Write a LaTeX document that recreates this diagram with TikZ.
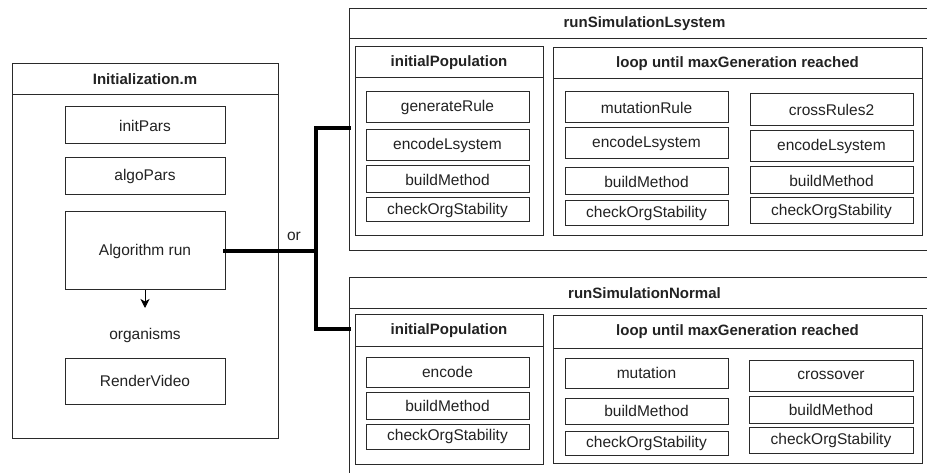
\documentclass[tikz,border=0pt]{standalone}
\usepackage{fontspec}
\setmainfont{Liberation Sans}
\usetikzlibrary{arrows.meta}
\definecolor{ink}{HTML}{222222}
\definecolor{edge}{HTML}{2A2A2A}
\tikzset{
  box/.style={draw=edge, line width=1pt, inner sep=0pt, outer sep=0pt, text=ink,
    font=\fontsize{15.5}{18}\selectfont},
  hdr/.style={box, font=\fontsize{15}{18}\selectfont\bfseries},
  frame/.style={box},
  txt/.style={inner sep=0pt, text=ink, font=\fontsize{15.5}{18}\selectfont},
  conn/.style={line width=4pt, black, line cap=rect},
  arr/.style={line width=1pt, black, -{Stealth[length=9pt,width=9pt,inset=2.5pt]}}
}
% #1 extra style, #2 x1, #3 y1, #4 x2, #5 y2, #6 name, #7 text
\newcommand{\bx}[7][]{\node[box,#1,minimum width={(#4-#2)*1pt},minimum height={(#5-#3)*1pt}] (#6) at ({(#2+#4)/2},{(#3+#5)/2}) {#7};}
\begin{document}
\begin{tikzpicture}[x=1pt,y=-1pt]
\useasboundingbox (0,0) rectangle (927,473);
\clip (0,0) rectangle (927,473);
\fill[white] (0,0) rectangle (927,473);

% ---- Initialization.m ----
\bx[frame]{12}{64}{278}{438}{init}{}
\bx[hdr]{12}{64}{278}{95}{initT}{Initialization.m}
\bx{65}{107}{225}{144}{initPars}{initPars}
\bx{65}{158}{225}{195}{algoPars}{algoPars}
\bx{65}{212}{225}{290}{algo}{Algorithm run}
\node[txt] (orgs) at (145,335) {organisms};
\coordinate (arrEnd) at (145,308);
\bx{65}{358}{225}{404}{render}{RenderVideo}
\draw[arr] (algo.south) -- (arrEnd);

% ---- runSimulationLsystem ----
\bx[frame]{349}{9}{940}{251}{lsys}{}
\bx[hdr]{349}{9}{940}{39}{lsysT}{runSimulationLsystem}

\bx[frame]{355}{47}{543}{236}{ipA}{}
\bx[hdr]{355}{47}{543}{78}{ipAT}{initialPopulation}
\bx{366}{92}{529}{123}{genRule}{generateRule}
\bx{366}{130}{529}{161}{encA}{encodeLsystem}
\bx{366}{166}{529}{193}{bmA}{buildMethod}
\bx{366}{198}{529}{222}{chkA}{checkOrgStability}

\bx[frame]{553}{48}{922}{236}{loopA}{}
\bx[hdr]{553}{48}{922}{79}{loopAT}{loop until maxGeneration reached}
\bx{565}{92}{728}{123}{mutRule}{mutationRule}
\bx{565}{128}{728}{159}{encB}{encodeLsystem}
\bx{565}{168}{728}{195}{bmB}{buildMethod}
\bx{565}{201}{728}{226}{chkB}{checkOrgStability}
\bx{750}{94}{913}{126}{cross2}{crossRules2}
\bx{750}{131}{913}{162}{encC}{encodeLsystem}
\bx{750}{167}{913}{194}{bmC}{buildMethod}
\bx{750}{198}{913}{224}{chkC}{checkOrgStability}

% ---- runSimulationNormal ----
\bx[frame]{349}{278}{940}{520}{lnorm}{}
\bx[hdr]{349}{278}{940}{309}{lnormT}{runSimulationNormal}

\bx[frame]{355}{315}{543}{464}{ipB}{}
\bx[hdr]{355}{315}{543}{346}{ipBT}{initialPopulation}
\bx{366}{357}{529}{387}{enc}{encode}
\bx{366}{392}{529}{419}{bmD}{buildMethod}
\bx{366}{424}{529}{449}{chkD}{checkOrgStability}

\bx[frame]{553}{316}{922}{463}{loopB}{}
\bx[hdr]{553}{316}{922}{348}{loopBT}{loop until maxGeneration reached}
\bx{565}{358}{728}{388}{mut}{mutation}
\bx{565}{398}{728}{424}{bmE}{buildMethod}
\bx{565}{431}{728}{455}{chkE}{checkOrgStability}
\bx{749}{360}{913}{391}{cross}{crossover}
\bx{749}{396}{913}{423}{bmF}{buildMethod}
\bx{749}{427}{913}{453}{chkF}{checkOrgStability}

% ---- connectors ----
\coordinate (J) at (316,251);
\coordinate (lsysIn) at (349,128);
\coordinate (lnormIn) at (349,329);
\draw[conn] (algo.east) -- (J);
\draw[conn] (lsysIn) -| (J) |- (lnormIn);
\node[txt] (orLbl) at (294,236) {or};
\end{tikzpicture}
\end{document}
